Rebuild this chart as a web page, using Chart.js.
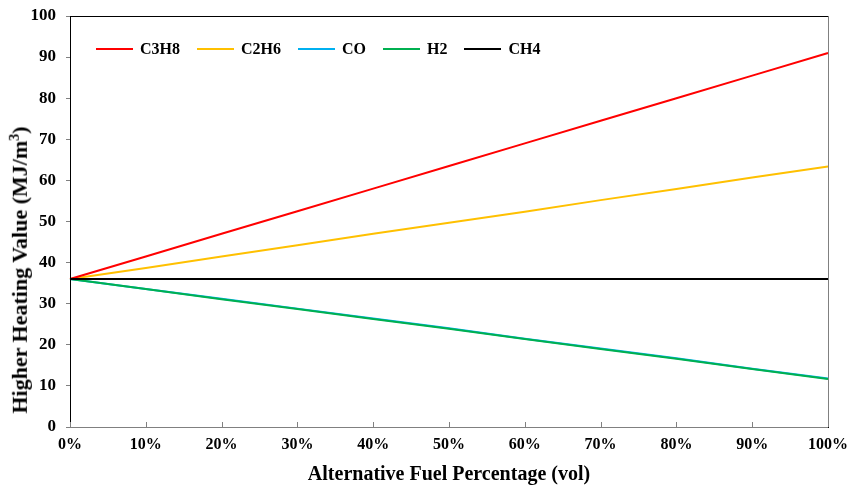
<!DOCTYPE html>
<html>
<head>
<meta charset="utf-8">
<script src="https://cdn.jsdelivr.net/npm/chart.js@4"></script>
<style>
  body { margin: 0; background: #fff; }
  #wrap { position: relative; width: 851px; height: 487px; }
  #legend {
    position: absolute; left: 96px; top: 40px;
    display: flex; align-items: center;
    font: bold 16px "Liberation Serif", serif; color: #000;
  }
  #legend .item { display: flex; align-items: center; margin-right: 17px; }
  #legend .swatch { width: 37px; height: 2px; margin-right: 7px; }
  #ytitle {
    position: absolute; left: 20px; top: 270px;
    transform: translate(-50%, -50%) rotate(-90deg);
    white-space: nowrap;
    font: bold 22px "Liberation Serif", serif; color: #000;
  }
</style>
</head>
<body>
<div id="wrap">
  <canvas id="chart"></canvas>
  <div id="legend"></div>
  <div id="ytitle">Higher Heating Value (MJ/m<sup style="font-size:14px">3</sup>)</div>
</div>
<script>
const xLabels = ['0%', '10%', '20%', '30%', '40%', '50%', '60%', '70%', '80%', '90%', '100%'];
const seriesNames = ['C3H8', 'C2H6', 'CO', 'H2', 'CH4'];
const seriesColors = ['#ff0000', '#ffc000', '#00b0f0', '#00b050', '#000000'];

const c3h8 = [36, 41.5, 47, 52.5, 58, 63.5, 69, 74.5, 80, 85.5, 91];
const c2h6 = [36, 38.7, 41.5, 44.2, 47, 49.7, 52.4, 55.2, 57.9, 60.7, 63.4];
const co   = [36, 33.6, 31.2, 28.8, 26.4, 24.0, 21.5, 19.1, 16.7, 14.2, 11.8];
const h2   = [36, 33.6, 31.1, 28.7, 26.3, 23.9, 21.4, 19.0, 16.6, 14.1, 11.7];
const ch4  = [36, 36, 36, 36, 36, 36, 36, 36, 36, 36, 36];
const yTicks = [0, 10, 20, 30, 40, 50, 60, 70, 80, 90, 100];

const seriesData = [c3h8, c2h6, co, h2, ch4];
const font = 'Liberation Serif';

// frame around plot + x tick marks pointing inward
const framePlugin = {
  id: 'frame',
  afterDatasetsDraw(chart) {
    const { ctx, chartArea: a, scales } = chart;
    ctx.save();
    ctx.strokeStyle = '#000';
    ctx.lineWidth = 1;
    ctx.strokeRect(a.left + 0.5, a.top + 0.5, a.right - a.left, a.bottom - a.top);
    ctx.strokeStyle = '#808080';
    ctx.beginPath();
    ctx.moveTo(a.right + 0.5, a.top); ctx.lineTo(a.right + 0.5, a.bottom);
    ctx.moveTo(a.left, a.bottom + 0.5); ctx.lineTo(a.right, a.bottom + 0.5);
    xLabels.forEach((l, i) => {
      const px = Math.round(scales.x.getPixelForValue(i)) + 0.5;
      ctx.moveTo(px, a.bottom); ctx.lineTo(px, a.bottom - 5);
    });
    ctx.stroke();
    ctx.restore();
  }
};

const datasets = seriesNames.map((name, i) => ({
  label: name,
  data: seriesData[i],
  borderColor: seriesColors[i],
  backgroundColor: seriesColors[i],
  borderWidth: 2,
  pointRadius: 0,
  tension: 0,
  order: name === 'CH4' ? 0 : (name === 'H2' ? 1 : 2)
}));

new Chart(document.getElementById('chart'), {
  type: 'line',
  data: { labels: xLabels, datasets },
  options: {
    responsive: true, maintainAspectRatio: false, animation: false,
    layout: { padding: { top: 16, right: 23, left: 0, bottom: 0 } },
    plugins: { legend: { display: false }, tooltip: { enabled: false } },
    scales: {
      x: {
        offset: false,
        grid: { display: false, drawTicks: false },
        border: { display: false },
        ticks: { color: '#000', font: { family: font, size: 16, weight: 'bold' }, padding: 8, maxRotation: 0 },
        title: { display: true, text: 'Alternative Fuel Percentage (vol)', color: '#000',
                 font: { family: font, size: 20, weight: 'bold' }, padding: { top: 7, bottom: 0 } },
        afterFit(s) { s.height = 60; s.paddingLeft = 0; s.paddingRight = 0; }
      },
      y: {
        min: 0, max: 100,
        afterBuildTicks(s) { s.ticks = yTicks.map(v => ({ value: v })); },
        grid: { drawOnChartArea: false, tickLength: 4, color: '#808080' },
        border: { color: '#000' },
        ticks: { color: '#000', font: { family: font, size: 17, weight: 'bold' }, padding: 10 },
        afterFit(s) { s.width = 70; s.paddingTop = 0; s.paddingBottom = 0; }
      }
    }
  },
  plugins: [framePlugin]
});

const legend = document.getElementById('legend');
seriesNames.forEach((name, i) => {
  const item = document.createElement('div');
  item.className = 'item';
  item.innerHTML = `<span class="swatch" style="background:${seriesColors[i]}"></span><span>${name}</span>`;
  legend.appendChild(item);
});
</script>
</body>
</html>
